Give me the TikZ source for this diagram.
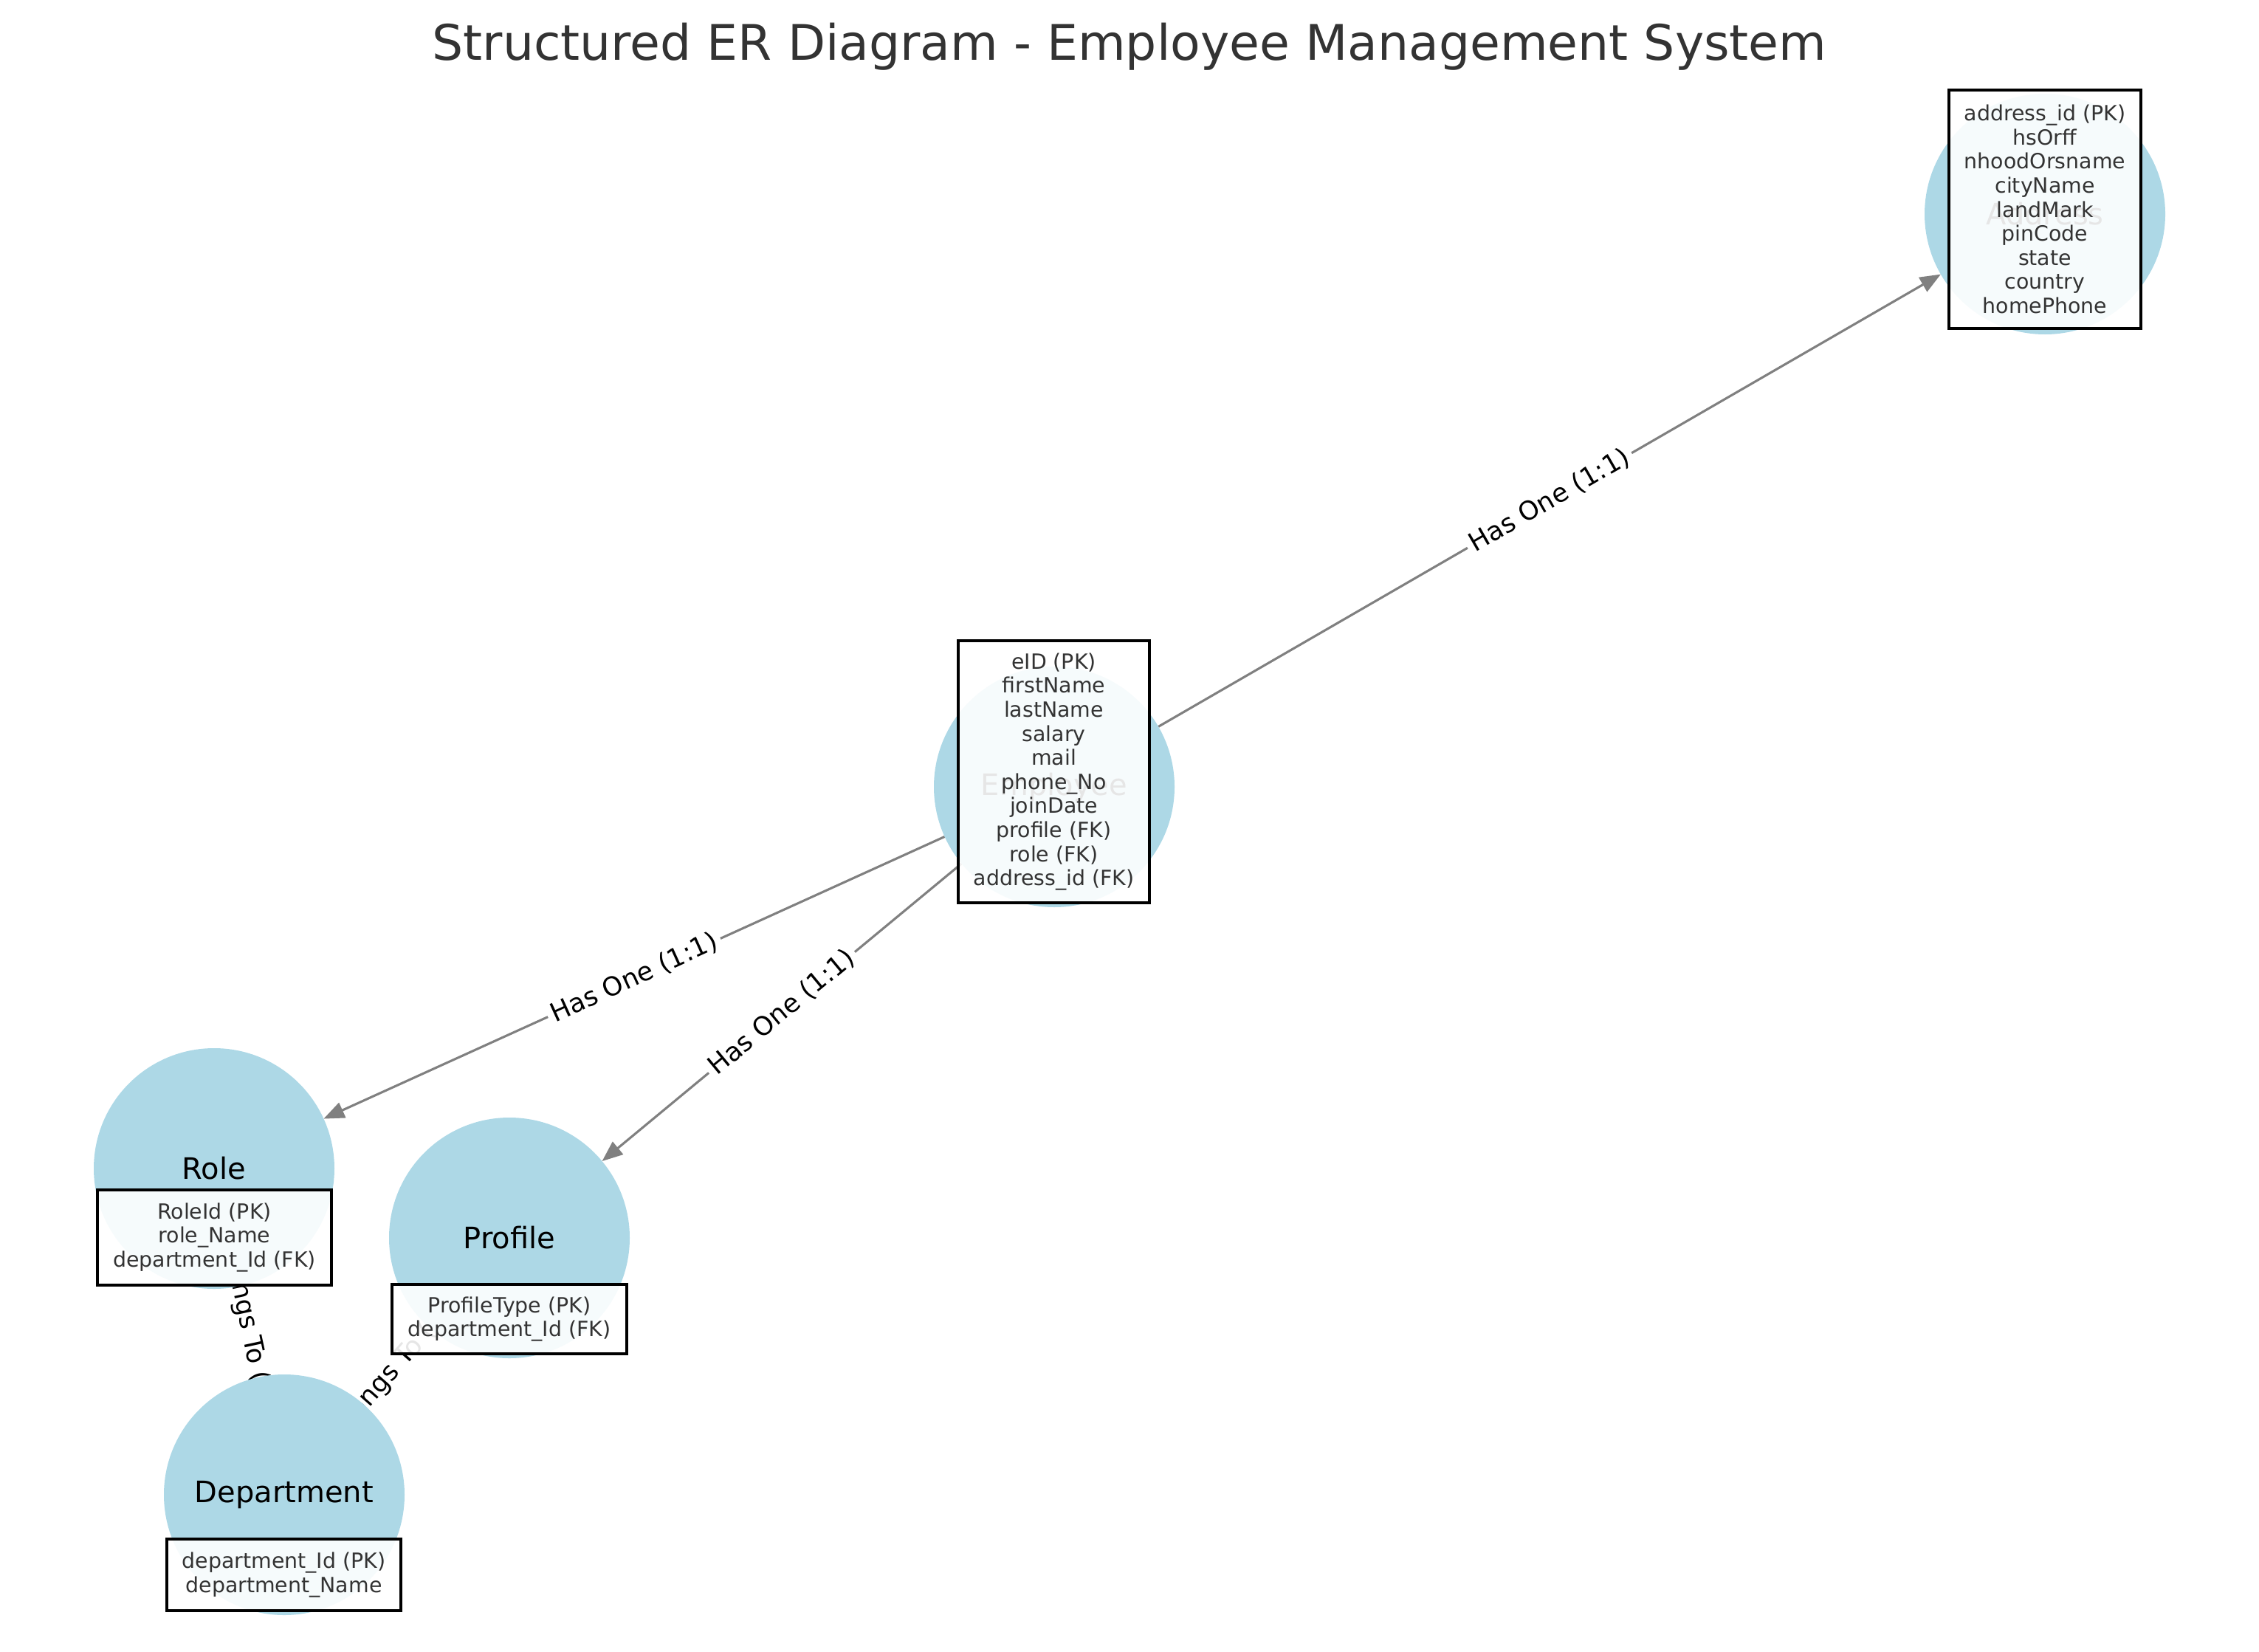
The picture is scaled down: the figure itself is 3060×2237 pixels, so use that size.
\documentclass[tikz,border=0pt]{standalone}
\usepackage{fontspec}
\setmainfont{DejaVu Sans}
\usetikzlibrary{arrows.meta}
\definecolor{nodeblue}{HTML}{ADD8E6}
\definecolor{edgegray}{HTML}{808080}
\definecolor{attrtext}{HTML}{333333}
\pgfdeclarelayer{edgelayer}
\pgfsetlayers{edgelayer,main}
\begin{document}
\begin{tikzpicture}[x=0.25pt,y=-0.25pt,
  entity/.style={circle, fill=nodeblue, minimum size=81.5pt, inner sep=0pt, outer sep=0pt,
    font=\fontsize{10}{12}\selectfont, text=black},
  attrbox/.style={rectangle, draw=black, line width=0.85pt, fill=white, fill opacity=0.9,
    text opacity=1, inner sep=0pt, align=center, text=attrtext,
    font=\fontsize{7.1}{8.15}\selectfont},
  rel/.style={draw=edgegray, line width=0.78pt, -{Triangle[length=7pt,width=5.5pt,fill=edgegray]}},
  rellabel/.style={fill=white, inner sep=1.5pt, font=\fontsize{8.8}{10}\selectfont,
    text=black, sloped, midway}
]
\useasboundingbox (0,0) rectangle (3060,2237);

% title
\node[anchor=base, text=attrtext, font=\fontsize{16.6}{20}\selectfont] (title) at (1530,82)
  {Structured ER Diagram - Employee Management System};

% entities
\node[entity] (address) at (2770,290) {Address};
\node[entity] (employee) at (1428,1066) {Employee};
\node[entity] (role) at (290,1583) {Role};
\node[entity] (profile) at (690,1677) {Profile};
\node[entity] (department) at (385,2025) {Department};

% relationships (below the entities)
\begin{pgfonlayer}{edgelayer}
\draw[rel] (employee) -- node[rellabel] {Has One (1:1)} (address);
\draw[rel] (employee) -- node[rellabel] {Has One (1:1)} (role);
\draw[rel] (employee) -- node[rellabel] {Has One (1:1)} (profile);
\draw[rel] (role) -- node[rellabel] {Belongs To (1:N)} (department);
\draw[rel] (profile) -- node[rellabel] {Belongs To (1:N)} (department);
\end{pgfonlayer}

% attribute boxes
\node[attrbox, minimum width=65pt, minimum height=80.75pt] (addressattr) at (2770,283.5)
  {address\_id (PK)\\hsOrff\\nhoodOrsname\\cityName\\landMark\\pinCode\\state\\country\\homePhone};
\node[attrbox, minimum width=64.75pt, minimum height=88.75pt] (employeeattr) at (1427.5,1045.5)
  {eID (PK)\\firstName\\lastName\\salary\\mail\\phone\_No\\joinDate\\profile (FK)\\role (FK)\\address\_id (FK)};
\node[attrbox, minimum width=79.25pt, minimum height=32.25pt] (roleattr) at (290.5,1676.5)
  {RoleId (PK)\\role\_Name\\department\_Id (FK)};
\node[attrbox, minimum width=79.5pt, minimum height=23.5pt] (profileattr) at (690,1787)
  {ProfileType (PK)\\department\_Id (FK)};
\node[attrbox, minimum width=79.25pt, minimum height=24.25pt] (departmentattr) at (384.5,2133.5)
  {department\_Id (PK)\\department\_Name};
\end{tikzpicture}
\end{document}
